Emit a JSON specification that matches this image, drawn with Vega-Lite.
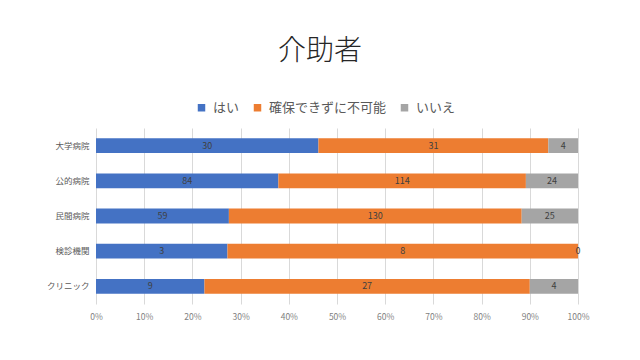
{
  "$schema": "https://vega.github.io/schema/vega-lite/v6.json",
  "width": 482,
  "height": 176,
  "autosize": {"type": "none"},
  "padding": {"left": 96, "top": 128, "right": 62, "bottom": 56},
  "background": "white",
  "title": {"text": "介助者", "font": "Noto Sans CJK JP", "fontSize": 28, "fontWeight": 300, "color": "#262626", "anchor": "middle", "dx": -17, "offset": 35},
  "config": {"view": {"stroke": null}, "font": "Noto Sans CJK JP"},
  "data": {"values": [
    {"cat": "大学病院", "ans": "はい", "k": 1, "n": 30},
    {"cat": "大学病院", "ans": "確保できずに不可能", "k": 2, "n": 31},
    {"cat": "大学病院", "ans": "いいえ", "k": 3, "n": 4},
    {"cat": "公的病院", "ans": "はい", "k": 1, "n": 84},
    {"cat": "公的病院", "ans": "確保できずに不可能", "k": 2, "n": 114},
    {"cat": "公的病院", "ans": "いいえ", "k": 3, "n": 24},
    {"cat": "民間病院", "ans": "はい", "k": 1, "n": 59},
    {"cat": "民間病院", "ans": "確保できずに不可能", "k": 2, "n": 130},
    {"cat": "民間病院", "ans": "いいえ", "k": 3, "n": 25},
    {"cat": "検診機関", "ans": "はい", "k": 1, "n": 3},
    {"cat": "検診機関", "ans": "確保できずに不可能", "k": 2, "n": 8},
    {"cat": "検診機関", "ans": "いいえ", "k": 3, "n": 0},
    {"cat": "クリニック", "ans": "はい", "k": 1, "n": 9},
    {"cat": "クリニック", "ans": "確保できずに不可能", "k": 2, "n": 27},
    {"cat": "クリニック", "ans": "いいえ", "k": 3, "n": 4}
  ]},
  "encoding": {
    "y": {"field": "cat", "type": "nominal", "sort": null,
      "scale": {"paddingInner": 0.58, "paddingOuter": 0.29},
      "axis": {"title": null, "domain": false, "ticks": false, "labelPadding": 7, "labelFontSize": 8.5, "labelColor": "#595959", "grid": false}},
    "order": {"field": "k", "type": "quantitative"}
  },
  "layer": [
    {
      "mark": {"type": "bar"},
      "encoding": {
        "x": {"field": "n", "type": "quantitative", "stack": "normalize",
          "scale": {"domain": [0, 1], "nice": false},
          "axis": {"title": null, "format": "%", "values": [0, 0.1, 0.2, 0.3, 0.4, 0.5, 0.6, 0.7, 0.8, 0.9, 1], "domain": false, "ticks": false, "grid": true, "gridColor": "#d9d9d9", "labelFlush": false, "labelPadding": 8, "labelFontSize": 8.5, "labelColor": "#7f7f7f"}},
        "color": {"field": "ans", "type": "nominal",
          "scale": {"domain": ["はい", "確保できずに不可能", "いいえ"], "range": ["#4472C4", "#ED7D31", "#A5A5A5"]},
          "legend": {"title": null, "orient": "none", "legendX": 99, "legendY": -27, "direction": "horizontal", "symbolType": "square", "symbolSize": 56, "symbolStrokeWidth": 0, "labelFontSize": 13, "labelColor": "#595959", "columnPadding": 11, "labelOffset": 5}}
      }
    },
    {
      "mark": {"type": "text", "fontSize": 9, "color": "#404040"},
      "encoding": {
        "x": {"field": "n", "type": "quantitative", "stack": "normalize", "bandPosition": 0.5},
        "detail": {"field": "ans"},
        "text": {"field": "n", "type": "quantitative"}
      }
    }
  ]
}
